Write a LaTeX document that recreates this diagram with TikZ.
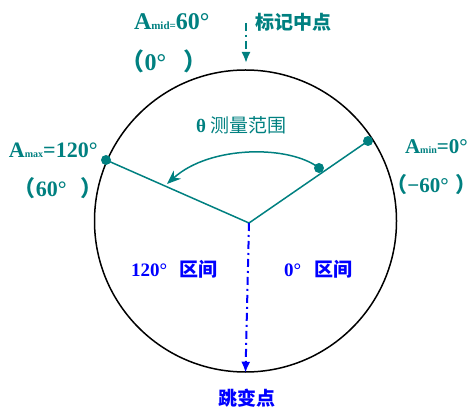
\documentclass[tikz,border=0pt]{standalone}
\usepackage{fontspec}
\setmainfont{Liberation Serif}
\newfontfamily\cjk{Noto Sans CJK SC}
\usetikzlibrary{arrows.meta}
\definecolor{tl}{HTML}{008080}
\definecolor{bl}{HTML}{0000FF}
\newcommand{\fs}[1]{\fontsize{#1}{#1}\selectfont}
\newcommand{\lpar}{{\cjk\makebox[0.4em][r]{（}}}
\newcommand{\rpar}{{\cjk\makebox[0.4em][l]{）}}}
\tikzset{
  lbl/.style={inner sep=0pt, outer sep=0pt, anchor=base west},
  tlab/.style={lbl, text=tl, font=\bfseries\fs{22}},
  blab/.style={lbl, text=bl, font=\bfseries\fs{19}},
  dot/.style={circle, fill=tl, inner sep=0pt, minimum size=10pt},
  tline/.style={draw=tl, line width=1.5pt},
  dashdot/.style={line width=2pt, dash pattern=on 8pt off 4pt on 2pt off 4pt, -{Latex[length=11pt,width=9pt]}},
}
\begin{document}
\begin{tikzpicture}[x=1pt,y=-1pt]
\useasboundingbox (0,0) rectangle (476,411);
% circle
\node[draw=black, line width=1.5pt, circle, inner sep=0pt, minimum size=302pt] (C) at (245.5,221) {};
% radii
\coordinate (O) at (249,223);
\node[dot] (R) at (368,141) {};
\node[dot] (L) at (106,160) {};
\node[dot] (M) at (319,168) {};
\coordinate (tip) at (167,184);
\draw[tline] (L.center) -- (O) -- (R.center);
\draw[tline, -{Stealth[length=14pt,width=11pt]}] (M.center) .. controls (290,145) and (210,145) .. (tip);
% top marker arrow
\coordinate (ts) at (246,23);
\coordinate (te) at (246,63);
\draw[draw=tl, dashdot] (ts) -- (te);
% bottom jump arrow
\draw[draw=bl, dashdot] (O) -- (C.south);
% labels
\node[tlab, font=\bfseries\fs{24}] (amid) at (134,30) {A{\fs{11}mid=}60°};
\node[tlab, font=\bfseries\fs{24}] (amid2) at (135,71) {\lpar 0°\hspace{17pt}\rpar};
\node[lbl, text=tl, font=\cjk\bfseries\fs{19}] (mark) at (255,30) {标记中点};
\node[tlab] (amax) at (9,158) {A{\fs{10}max}=120°};
\node[tlab] (amax2) at (27,197) {\lpar 60°\hspace{14pt}\rpar};
\node[tlab, font=\bfseries\fs{21}] (amin) at (405,154) {A{\fs{10}min}=0°};
\node[tlab, font=\bfseries\fs{21}] (amin2) at (399,193) {\lpar −60°\hspace{7pt}\rpar};
\node[lbl, text=tl, font=\fs{19}] (theta) at (196,133) {\textbf{θ} {\cjk 测量范围}};
\node[blab] (r120) at (131,277) {120°\hspace{12pt}{\cjk 区间}};
\node[blab] (r0) at (284,277) {0°\hspace{13pt}{\cjk 区间}};
\node[lbl, text=bl, font=\cjk\bfseries\fs{19}] (jump) at (218,405) {跳变点};
\end{tikzpicture}
\end{document}
